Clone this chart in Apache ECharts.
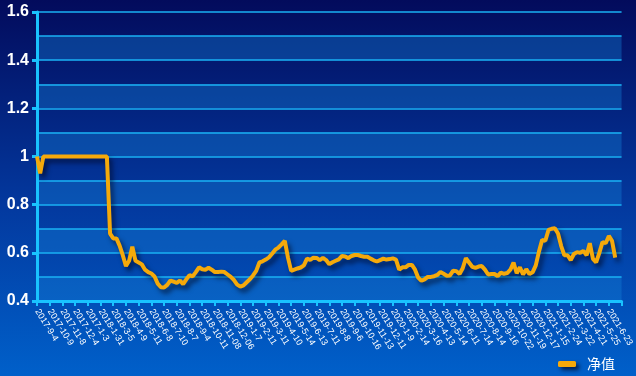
<!DOCTYPE html>
<html>
<head>
<meta charset="utf-8">
<title>净值</title>
<script src="https://cdn.jsdelivr.net/npm/echarts@6/dist/echarts.min.js"></script>
<style>
html,body{margin:0;padding:0;}
#chart{width:636px;height:376px;}
</style>
</head>
<body>
<div id="chart"></div>
<script>
// 横轴刻度标签
var tickLabels = ['2017-9-4','2017-10-9','2017-11-8','2017-12-4','2017-1-3','2018-1-31','2018-3-5','2018-4-9',
	'2018-5-11','2018-6-8','2018-7-10','2018-8-7','2018-9-4','2018-10-11','2018-11-08','2018-12-06',
	'2019-1-7','2019-2-11','2019-3-11','2019-4-10','2019-5-14','2019-6-13','2019-7-11','2019-8-8',
	'2019-9-6','2019-10-16','2019-11-13','2019-12-11','2020-1-9','2020-2-14','2020-3-16','2020-4-13',
	'2020-5-14','2020-6-11','2020-7-14','2020-8-14','2020-9-16','2020-10-22','2020-11-19','2020-12-17',
	'2021-1-15','2021-2-24','2021-3-22','2021-4-21','2021-5-25','2021-6-23'];
var pointsPerTick = 4;

// 净值
var netValues = [
	1.0,0.93,1.0,1.0,1.0,1.0,1.0,1.0,1.0,1.0,1.0,1.0,1.0,1.0,1.0,1.0,1.0,1.0,1.0,1.0,1.0,1.0,1.0,0.68,
	0.66,0.66,0.63,0.59,0.545,0.567,0.625,0.567,0.56,0.552,0.53,0.52,0.514,0.502,0.472,0.457,
	0.456,0.467,0.485,0.48,0.475,0.485,0.47,0.49,0.507,0.502,0.52,0.54,0.532,0.53,0.538,0.53,
	0.52,0.52,0.522,0.52,0.51,0.50,0.487,0.468,0.46,0.465,0.478,0.49,0.506,0.525,0.56,0.565,
	0.572,0.581,0.596,0.613,0.622,0.635,0.65,0.58,0.525,0.53,0.535,0.539,0.548,0.576,0.571,0.58,
	0.579,0.57,0.579,0.57,0.553,0.561,0.567,0.573,0.587,0.585,0.578,0.587,0.591,0.591,0.587,0.584,
	0.584,0.576,0.569,0.564,0.57,0.576,0.572,0.574,0.577,0.572,0.53,0.54,0.54,0.55,0.55,0.53,
	0.497,0.484,0.49,0.50,0.50,0.503,0.508,0.52,0.513,0.505,0.506,0.526,0.524,0.512,0.536,0.578,
	0.56,0.542,0.538,0.543,0.545,0.53,0.51,0.512,0.512,0.503,0.518,0.513,0.516,0.53,0.56,0.515,
	0.54,0.51,0.532,0.512,0.519,0.548,0.605,0.654,0.65,0.695,0.70,0.702,0.68,0.628,0.59,0.59,
	0.57,0.595,0.603,0.60,0.608,0.59,0.64,0.575,0.56,0.6,0.645,0.64,0.67,0.65,0.58
];

var yMin = 0.4, yMax = 1.6;

function buildCategories(){
	var cats = [];
	for(var i=0;i<tickLabels.length;i++){
		cats.push(tickLabels[i]);
		for(var j=1;j<pointsPerTick;j++){
			cats.push('');
		}
	}
	cats.push('');
	return cats;
}

function drawChart(id){
	var myChart = echarts.init(document.getElementById(id));
	var axisColor = '#19c3ff';
	var option = {
		backgroundColor: new echarts.graphic.LinearGradient(0,0,0,1,[
			{offset:0,color:'#030b5c'},
			{offset:0.55,color:'#03399f'},
			{offset:1,color:'#0060ca'}
		]),
		textStyle:{fontFamily:'"Liberation Sans", Arial, sans-serif'},
		grid:{left:37,right:11,top:12,bottom:75},
		legend:{
			right:16,
			top:352,
			icon:'roundRect',
			itemWidth:18,
			itemHeight:6,
			itemStyle:{shadowColor:'rgba(0,0,20,0.7)',shadowBlur:4,shadowOffsetX:3,shadowOffsetY:3},
			textStyle:{color:'#ffffff',fontSize:14,padding:[0,0,0,6],fontFamily:'"Noto Sans CJK SC", sans-serif'},
			data:['净值']
		},
		xAxis:{
			type:'category',
			boundaryGap:false,
			data:buildCategories(),
			axisLine:{lineStyle:{color:axisColor,width:3}},
			axisTick:{interval:pointsPerTick-1,length:5,lineStyle:{color:axisColor,width:2}},
			axisLabel:{
				interval:pointsPerTick-1,
				rotate:-58,
				color:'#ffffff',
				fontSize:9,
				margin:9
			},
			splitLine:{show:false}
		},
		yAxis:[
			{
				type:'value',
				min:yMin,
				max:yMax,
				interval:0.1,
				axisLine:{show:true,lineStyle:{color:axisColor,width:3}},
				axisTick:{show:false},
				axisLabel:{show:false},
				splitLine:{show:true,lineStyle:{color:'#1ab2f5',width:1.5}},
				splitArea:{show:true,areaStyle:{color:['rgba(20,130,215,0.38)','rgba(0,0,0,0)']}}
			},
			{
				type:'value',
				position:'left',
				offset:0,
				min:yMin,
				max:yMax,
				interval:0.2,
				axisLine:{show:false},
				axisTick:{show:true,length:5,lineStyle:{color:axisColor,width:3}},
				axisLabel:{color:'#ffffff',fontSize:16,fontWeight:'bold',margin:8},
				splitLine:{show:false}
			}
		],
		series:[
			{
				name:'净值',
				type:'line',
				yAxisIndex:0,
				symbol:'none',
				smooth:false,
				data:netValues,
				itemStyle:{color:'#f5a90a'},
				lineStyle:{
					color:'#f5a90a',
					width:4,
					shadowColor:'rgba(0,0,20,0.6)',
					shadowBlur:5,
					shadowOffsetX:3,
					shadowOffsetY:4
				}
			}
		]
	};
	myChart.setOption(option);
}

drawChart('chart');
</script>
</body>
</html>
